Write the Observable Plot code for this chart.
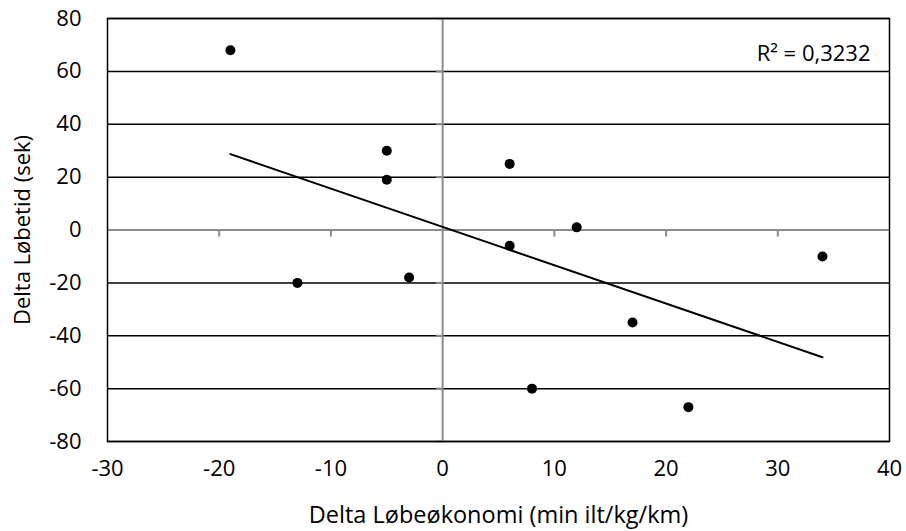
<!DOCTYPE html>
<html>
<head>
<meta charset="utf-8">
<script src="https://cdn.jsdelivr.net/npm/d3@7"></script>
<script src="https://cdn.jsdelivr.net/npm/@observablehq/plot@0.6"></script>
<style>
  html, body { margin: 0; padding: 0; background: #fff; }
  svg { display: block; }
</style>
</head>
<body>
<div id="chart"></div>
<script>
// Data
const deltaEconomy = [-19, -13, -5, -5, -3, 6, 6, 8, 12, 17, 22, 34];
const deltaTime    = [ 68, -20, 30, 19, -18, 25, -6, -60, 1, -35, -67, -10];

const xTicks = [-30, -20, -10, 0, 10, 20, 30, 40];
const yTicks = [-80, -60, -40, -20, 0, 20, 40, 60, 80];

const xLabel = "Delta Løbeøkonomi (min ilt/kg/km)";
const yLabel = "Delta Løbetid (sek)";

const data = deltaEconomy.map((x, i) => ({x, y: deltaTime[i]}));

// R² of the linear fit
const mx = d3.mean(deltaEconomy), my = d3.mean(deltaTime);
const sxy = d3.sum(data, d => (d.x - mx) * (d.y - my));
const sxx = d3.sum(data, d => (d.x - mx) ** 2);
const syy = d3.sum(data, d => (d.y - my) ** 2);
const r2 = (sxy * sxy) / (sxx * syy);
const r2Label = "R² = " + r2.toFixed(4).replace(".", ",");

const gridY = yTicks.filter(v => v !== 0);
const FONT = "'Open Sans', sans-serif";
const fmt = d => String(d);

const chart = Plot.plot({
  width: 906,
  height: 531,
  marginLeft: 107,
  marginRight: 17,
  marginTop: 18,
  marginBottom: 90,
  style: {fontFamily: FONT, fontSize: "22px", color: "#000", background: "#fff"},
  x: {domain: [-30, 40], ticks: xTicks},
  y: {domain: [-80, 80], ticks: yTicks},
  marks: [
    Plot.ruleY(gridY, {stroke: "#000", strokeWidth: 1.5}),
    Plot.ruleY([0], {stroke: "#8c8c8c", strokeWidth: 2}),
    Plot.ruleX([0], {stroke: "#8c8c8c", strokeWidth: 2}),
    Plot.ruleX(xTicks.filter(v => v > -30 && v < 40 && v !== 0), {y1: 0, y2: 0, insetBottom: -7, stroke: "#8c8c8c", strokeWidth: 2}),
    Plot.ruleY(yTicks.filter(v => v !== 0), {x1: 0, x2: 0, insetLeft: -6, stroke: "#8c8c8c", strokeWidth: 2}),
    Plot.frame({stroke: "#000", strokeWidth: 1.5}),
    Plot.axisX({ticks: xTicks, tickSize: 0, tickPadding: 19, tickFormat: fmt, label: null, fontSize: 22, fill: "#000"}),
    Plot.axisY({ticks: yTicks, tickSize: 0, tickPadding: 26, tickFormat: fmt, label: null, fontSize: 22, fill: "#000"}),
    Plot.linearRegressionY(data, {x: "x", y: "y", ci: 0, stroke: "#000", strokeWidth: 2}),
    Plot.dot(data, {x: "x", y: "y", r: 5, fill: "#000", stroke: "none"}),
    Plot.text([r2Label], {frameAnchor: "top-right", textAnchor: "end", lineAnchor: "middle", dx: -19, dy: 35, fontSize: 22, fill: "#000"}),
    Plot.text([xLabel], {frameAnchor: "bottom", textAnchor: "middle", lineAnchor: "middle", dy: 74, fontSize: 23.5, fill: "#000"}),
    Plot.text([yLabel], {frameAnchor: "left", rotate: -90, textAnchor: "middle", lineAnchor: "middle", dx: -85, fontSize: 22, fill: "#000"})
  ]
});

document.getElementById("chart").appendChild(chart);
</script>
</body>
</html>
